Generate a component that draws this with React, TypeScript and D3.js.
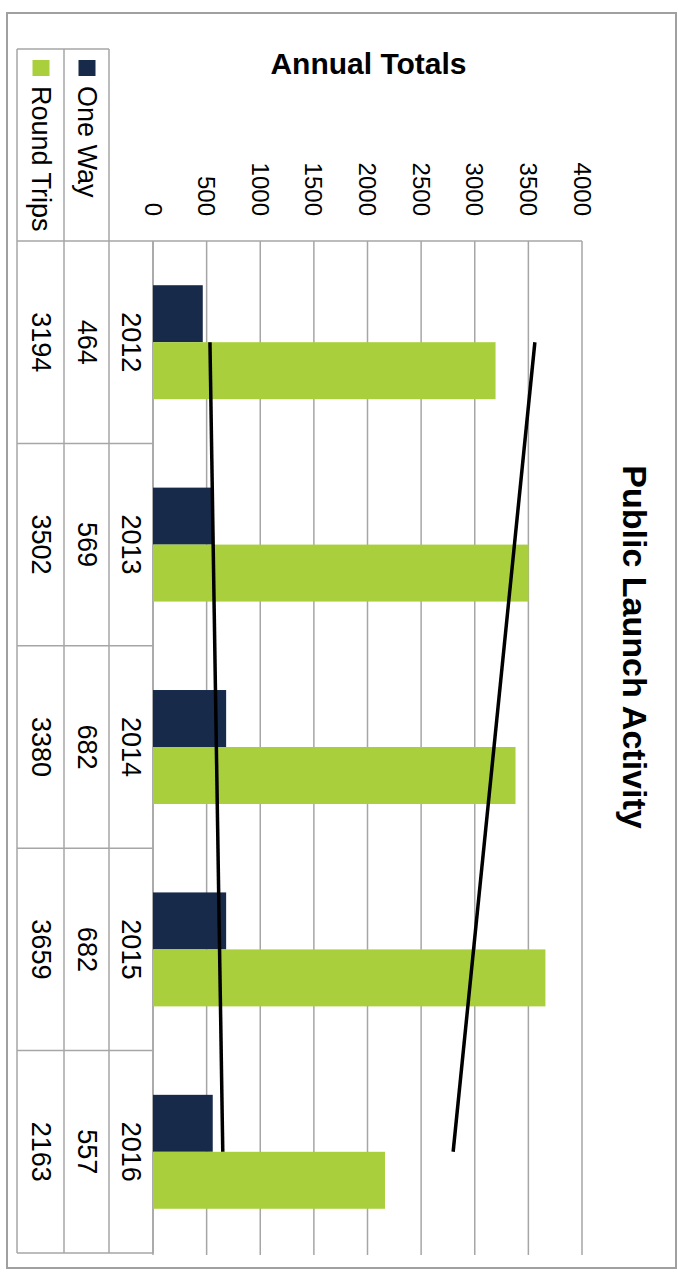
import React, { useEffect } from 'react';
import * as d3 from 'd3';

const years = ['2012', '2013', '2014', '2015', '2016'];
const oneWay = [464, 569, 682, 682, 557];
const roundTrips = [3194, 3502, 3380, 3659, 2163];
const valueTicks = [0, 500, 1000, 1500, 2000, 2500, 3000, 3500, 4000];
const seriesNames = ['One Way', 'Round Trips'];
const seriesColors = ['#172a4a', '#a9d03c'];
const chartTitle = 'Public Launch Activity';
const axisTitle = 'Annual Totals';

const W = 678;
const H = 1275;
const plotLeft = 153;
const plotRight = 582;
const plotTop = 241;
const plotBottom = 1253;
const tableLeft = 17;
const colRT = 64; // boundary between Round Trips col and One Way col
const colOW = 109; // boundary between One Way col and year col
const legendTop = 49;
const FONT = '"Liberation Sans", Arial, sans-serif';
const GRID = '#a6a6a6';

function linreg(vals: number[]) {
  const n = vals.length;
  const xs = vals.map((_, i) => i);
  const mx = d3.mean(xs) as number;
  const my = d3.mean(vals) as number;
  let num = 0;
  let den = 0;
  xs.forEach((x, i) => {
    num += (x - mx) * (vals[i] - my);
    den += (x - mx) * (x - mx);
  });
  const slope = num / den;
  const intercept = my - slope * mx;
  return [intercept, intercept + slope * (n - 1)];
}

export default function App() {
  useEffect(() => {
    document.body.style.margin = '0';
  }, []);

  const x = d3.scaleLinear().domain([0, 4000]).range([plotLeft, plotRight]);
  const cat = d3.scaleBand<string>().domain(years).range([plotTop, plotBottom]).padding(0);
  const grp = d3
    .scaleBand<string>()
    .domain(years)
    .range([plotTop, plotBottom])
    .paddingInner(0.437)
    .paddingOuter(0.2185);
  const sub = d3.scaleBand<string>().domain(seriesNames).range([0, grp.bandwidth()]);
  const series = [oneWay, roundTrips];
  const centerY = (y: string) => (cat(y) as number) + cat.bandwidth() / 2;

  const trend = series.map((vals) => {
    const [a, b] = linreg(vals);
    return d3.line<[number, number]>()([
      [x(a), centerY(years[0])],
      [x(b), centerY(years[years.length - 1])],
    ]);
  });

  const colCenters = [(colOW + plotLeft) / 2, (colRT + colOW) / 2, (tableLeft + colRT) / 2];
  const rows = [years, oneWay.map(String), roundTrips.map(String)];

  return (
    <svg
      width={W}
      height={H}
      style={{ position: 'absolute', left: 0, top: 0, background: '#fff' }}
      fontFamily={FONT}
    >
      <rect x={0} y={0} width={W} height={H} fill="#fff" />
      <rect x={7} y={13} width={669} height={1255} fill="none" stroke="#a0a0a0" strokeWidth={2} />

      {/* gridlines */}
      {valueTicks.map((t) => (
        <line key={'g' + t} x1={x(t)} x2={x(t)} y1={plotTop} y2={plotBottom + 2} stroke={GRID} strokeWidth={1.5} />
      ))}

      {/* tick labels */}
      {valueTicks.map((t) => (
        <text
          key={'t' + t}
          x={x(t)}
          y={216}
          transform={`rotate(90, ${x(t)}, 216)`}
          textAnchor="end"
          dominantBaseline="central"
          fontSize={24}
          fill="#000"
        >
          {t}
        </text>
      ))}

      {/* table lines */}
      <line x1={tableLeft} x2={plotRight} y1={plotTop} y2={plotTop} stroke={GRID} strokeWidth={1.5} />
      {years.map((yv) => (
        <line
          key={'h' + yv}
          x1={tableLeft}
          x2={plotLeft}
          y1={(cat(yv) as number) + cat.bandwidth()}
          y2={(cat(yv) as number) + cat.bandwidth()}
          stroke={GRID}
          strokeWidth={1.5}
        />
      ))}
      <line x1={tableLeft} x2={colOW} y1={legendTop} y2={legendTop} stroke={GRID} strokeWidth={1.5} />
      {[tableLeft, colRT, colOW].map((cx) => (
        <line key={'v' + cx} x1={cx} x2={cx} y1={legendTop} y2={plotBottom} stroke={GRID} strokeWidth={1.5} />
      ))}
      <line x1={plotLeft} x2={plotLeft} y1={plotTop} y2={plotBottom} stroke={GRID} strokeWidth={1.5} />

      {/* bars */}
      {series.map((vals, si) =>
        vals.map((v, i) => (
          <rect
            key={'b' + si + i}
            x={x(0)}
            y={(grp(years[i]) as number) + (sub(seriesNames[si]) as number)}
            width={x(v) - x(0)}
            height={sub.bandwidth()}
            fill={seriesColors[si]}
          />
        ))
      )}

      {/* trendlines */}
      {trend.map((d, i) => (
        <path key={'tr' + i} d={d as string} stroke="#000" strokeWidth={3.5} fill="none" />
      ))}

      {/* table text */}
      {rows.map((row, ri) =>
        row.map((txt, i) => {
          const cx = colCenters[ri];
          const cy = centerY(years[i]);
          return (
            <text
              key={'c' + ri + i}
              x={cx}
              y={cy}
              transform={`rotate(90, ${cx}, ${cy})`}
              textAnchor="middle"
              dominantBaseline="central"
              fontSize={27}
              fill="#000"
            >
              {txt}
            </text>
          );
        })
      )}

      {/* legend */}
      {seriesNames.map((name, si) => {
        const cx = si === 0 ? (colRT + colOW) / 2 : (tableLeft + colRT) / 2;
        return (
          <g key={'l' + si}>
            <rect x={cx - 8} y={60} width={17} height={16} fill={seriesColors[si]} />
            <text
              x={cx}
              y={86}
              transform={`rotate(90, ${cx}, 86)`}
              textAnchor="start"
              dominantBaseline="central"
              fontSize={27}
              fill="#000"
            >
              {name}
            </text>
          </g>
        );
      })}

      {/* axis title */}
      <text x={368.5} y={74} textAnchor="middle" fontSize={30} fontWeight="bold" fill="#000">
        {axisTitle}
      </text>

      {/* chart title */}
      <text
        x={623}
        y={647}
        transform={`rotate(90, 623, 647)`}
        textAnchor="middle"
        fontSize={34}
        fontWeight="bold"
        fill="#000"
      >
        {chartTitle}
      </text>
    </svg>
  );
}
